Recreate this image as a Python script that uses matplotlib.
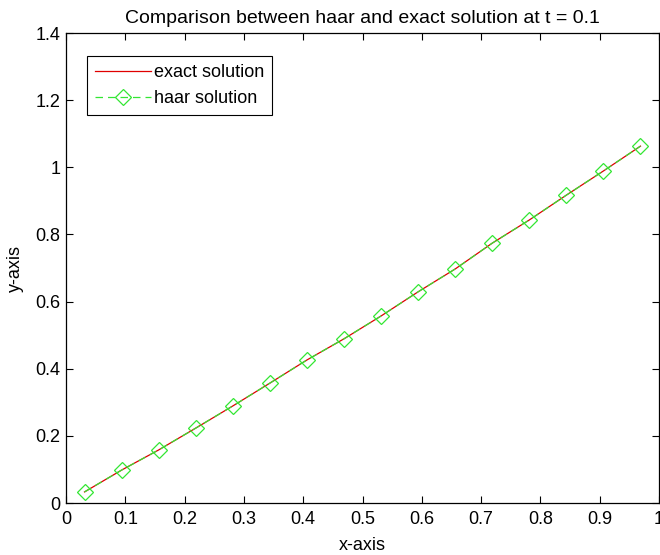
import matplotlib
matplotlib.use("Agg")
import matplotlib.pyplot as plt

plt.rcParams['font.family'] = ['Liberation Sans', 'DejaVu Sans']

x_points = [0.03125, 0.09375, 0.15625, 0.21875, 0.28125, 0.34375, 0.40625, 0.46875,
            0.53125, 0.59375, 0.65625, 0.71875, 0.78125, 0.84375, 0.90625, 0.96875]
exact_y = [0.033, 0.098, 0.158, 0.223, 0.289, 0.357, 0.426, 0.489,
           0.557, 0.629, 0.697, 0.774, 0.843, 0.917, 0.989, 1.063]
haar_y = [0.033, 0.098, 0.158, 0.223, 0.289, 0.357, 0.426, 0.489,
          0.557, 0.629, 0.697, 0.774, 0.843, 0.917, 0.989, 1.063]
x_ticks = [0, 0.1, 0.2, 0.3, 0.4, 0.5, 0.6, 0.7, 0.8, 0.9, 1]
x_tick_labels = ['0', '0.1', '0.2', '0.3', '0.4', '0.5', '0.6', '0.7', '0.8', '0.9', '1']
y_ticks = [0, 0.2, 0.4, 0.6, 0.8, 1, 1.2, 1.4]
y_tick_labels = ['0', '0.2', '0.4', '0.6', '0.8', '1', '1.2', '1.4']

fig = plt.figure(figsize=(6.6, 5.55), dpi=100)
ax = fig.add_axes([66/660, 52/555, 593/660, 470/555])

ax.plot(x_points, exact_y, color='#e00000', linewidth=0.9, label='exact solution')
ax.plot(x_points, haar_y, color='#33e633', linewidth=0.9, linestyle=(0, (6, 4)),
        marker='D', markersize=8, markerfacecolor='none', markeredgecolor='#33e633',
        markeredgewidth=0.9, label='haar solution')

ax.set_xlim(0, 1)
ax.set_ylim(0, 1.4)
ax.set_xticks(x_ticks)
ax.set_xticklabels(x_tick_labels)
ax.set_yticks(y_ticks)
ax.set_yticklabels(y_tick_labels)
ax.tick_params(direction='in', length=5, width=0.8, top=True, right=True,
               labelsize=13, colors='black', pad=4)
ax.tick_params(axis='x', pad=6)
for s in ax.spines.values():
    s.set_linewidth(0.9)

ax.set_title('Comparison between haar and exact solution at t = 0.1', fontsize=14, pad=7)
ax.set_xlabel('x-axis', fontsize=13, labelpad=6)
ax.set_ylabel('y-axis', fontsize=13, labelpad=8)

leg = ax.legend(loc='upper left', bbox_to_anchor=(0.035, 0.951), borderaxespad=0,
                fontsize=13, handlelength=3.1, handletextpad=0.2, borderpad=0.44,
                labelspacing=0.5, fancybox=False, framealpha=1, edgecolor='black')
leg.get_frame().set_linewidth(0.8)

fig.savefig('out.png', dpi=100)
